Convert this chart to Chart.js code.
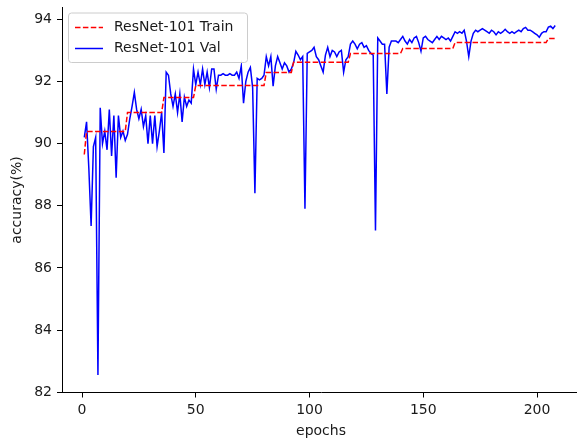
<!DOCTYPE html>
<html>
<head>
<meta charset="utf-8">
<script src="https://cdn.jsdelivr.net/npm/chart.js@4.4.1/dist/chart.umd.min.js"></script>
<style>
  html, body { margin: 0; padding: 0; background: #fff; overflow: hidden; }
  #wrap { width: 577px; height: 442px; overflow: hidden; position: relative; }
  canvas { display: block; }
</style>
</head>
<body>
<div id="wrap"><canvas id="c" width="600" height="442" style="width:600px;height:442px"></canvas></div>
<script>
// Training accuracy per epoch (step-wise plateaus)
const trainAcc = [
  89.65,
  90.39, 90.39, 90.39, 90.39, 90.39, 90.39, 90.39, 90.39, 90.39,
  90.39, 90.39, 90.39, 90.39, 90.39, 90.39, 90.39, 90.39, 90.39,
  91.0, 91.0, 91.0, 91.0, 91.0, 91.0, 91.0, 91.0,
  91.0, 91.0, 91.0, 91.0, 91.0, 91.0, 91.0, 91.0,
  91.48, 91.48, 91.48, 91.48, 91.48, 91.48, 91.48,
  91.48, 91.48, 91.48, 91.48, 91.48, 91.48, 91.48,
  91.87, 91.87, 91.87, 91.87, 91.87, 91.87, 91.87, 91.87, 91.87, 91.87,
  91.87, 91.87, 91.87, 91.87, 91.87, 91.87, 91.87, 91.87, 91.87, 91.87,
  91.87, 91.87, 91.87, 91.87, 91.87, 91.87, 91.87, 91.87, 91.87, 91.87, 91.87,
  92.29, 92.29, 92.29, 92.29, 92.29, 92.29,
  92.29, 92.29, 92.29, 92.29, 92.29, 92.29,
  92.62, 92.62, 92.62, 92.62, 92.62, 92.62, 92.62, 92.62, 92.62, 92.62,
  92.62, 92.62, 92.62, 92.62, 92.62, 92.62, 92.62, 92.62, 92.62, 92.62,
  92.62, 92.62, 92.62, 92.62, 92.62,
  92.9, 92.9, 92.9, 92.9, 92.9, 92.9, 92.9, 92.9, 92.9, 92.9,
  92.9, 92.9, 92.9, 92.9, 92.9, 92.9, 92.9, 92.9, 92.9, 92.9,
  92.9, 92.9, 92.9,
  93.06, 93.06, 93.06, 93.06, 93.06, 93.06, 93.06, 93.06, 93.06, 93.06,
  93.06, 93.06, 93.06, 93.06, 93.06, 93.06, 93.06, 93.06, 93.06, 93.06,
  93.06, 93.06, 93.06,
  93.25, 93.25, 93.25, 93.25, 93.25, 93.25, 93.25, 93.25, 93.25, 93.25,
  93.25, 93.25, 93.25, 93.25, 93.25, 93.25, 93.25, 93.25, 93.25, 93.25,
  93.25, 93.25, 93.25, 93.25, 93.25, 93.25, 93.25, 93.25, 93.25, 93.25,
  93.25, 93.25, 93.25, 93.25, 93.25, 93.25, 93.25, 93.25, 93.25, 93.25,
  93.25,
  93.38, 93.38, 93.38, 93.38
];

// Validation accuracy per epoch
const valAcc = [
  90.2, 90.7, 89.2, 87.35, 89.9, 90.2, 82.55, 91.15, 90.0, 90.4,
  89.8, 91.1, 89.6, 90.9, 88.9, 90.9, 90.2, 90.4, 90.1, 90.3,
  90.8, 91.2, 91.65, 91.1, 90.8, 91.1, 90.55, 90.9, 90.0, 90.9,
  90.0, 90.9, 89.9, 90.4, 91.0, 89.7, 92.3, 92.2, 91.6, 91.2,
  91.6, 91.0, 91.6, 90.7, 91.5, 91.2, 91.4, 91.3, 92.4, 91.9,
  92.3, 91.9, 92.4, 91.9, 92.3, 91.8, 92.4, 92.4, 91.75, 92.2,
  92.2, 92.25, 92.2, 92.2, 92.25, 92.2, 92.2, 92.3, 92.1, 92.5,
  91.3, 92.0, 92.3, 92.45, 91.8, 88.4, 92.1, 92.05, 92.1, 92.2,
  92.8, 92.5, 92.8, 91.85, 92.5, 92.8, 92.6, 92.4, 92.6, 92.5,
  92.3, 92.4, 92.6, 92.97, 92.85, 92.7, 92.8, 87.9, 92.9, 92.95,
  93.0, 93.1, 92.8, 92.7, 92.5, 92.3, 92.85, 93.1, 92.8, 93.0,
  92.95, 92.8, 92.95, 93.0, 92.3, 92.7, 92.8, 93.2, 93.3, 93.2,
  93.05, 93.2, 93.25, 93.1, 93.15, 93.0, 92.9, 92.85, 87.2, 93.4,
  93.3, 93.2, 93.2, 91.6, 93.1, 93.3, 93.3, 93.3, 93.25, 93.35,
  93.45, 93.3, 93.2, 93.35, 93.25, 93.4, 93.45, 93.25, 92.97, 93.4,
  93.45, 93.35, 93.3, 93.25, 93.35, 93.45, 93.35, 93.45, 93.4, 93.35,
  93.4, 93.3, 93.45, 93.6, 93.55, 93.6, 93.55, 93.65, 93.3, 92.8,
  93.3, 93.55, 93.65, 93.6, 93.65, 93.7, 93.65, 93.6, 93.55, 93.65,
  93.6, 93.5, 93.6, 93.55, 93.6, 93.68, 93.6, 93.55, 93.6, 93.55,
  93.6, 93.65, 93.6, 93.7, 93.74, 93.65, 93.65, 93.6, 93.55, 93.5,
  93.42, 93.55, 93.6, 93.6, 93.75, 93.78, 93.7, 93.8
];

const xTicks = [0, 50, 100, 150, 200];
const yTicks = [82, 84, 86, 88, 90, 92, 94];
const seriesNames = ['ResNet-101 Train', 'ResNet-101 Val'];
const xTitle = 'epochs';
const yTitle = 'accuracy(%)';

const epochs = valAcc.map((_, i) => i + 1);
const toPoints = arr => arr.map((v, i) => ({ x: epochs[i], y: v }));

const FONT = '"DejaVu Sans", "Liberation Sans", sans-serif';
const TEXT = '#1a1a1a';

// Legend box drawn inside the plot, upper left
const insetLegend = {
  id: 'insetLegend',
  afterDatasetsDraw(chart) {
    const ctx = chart.ctx;
    const area = chart.chartArea;
    const bx = area.left + 6.5, by = area.top + 5.5, bw = 179, bh = 49.5, r = 3;
    ctx.save();
    ctx.beginPath();
    ctx.moveTo(bx + r, by);
    ctx.lineTo(bx + bw - r, by);
    ctx.arcTo(bx + bw, by, bx + bw, by + r, r);
    ctx.lineTo(bx + bw, by + bh - r);
    ctx.arcTo(bx + bw, by + bh, bx + bw - r, by + bh, r);
    ctx.lineTo(bx + r, by + bh);
    ctx.arcTo(bx, by + bh, bx, by + bh - r, r);
    ctx.lineTo(bx, by + r);
    ctx.arcTo(bx, by, bx + r, by, r);
    ctx.closePath();
    ctx.fillStyle = 'rgba(255,255,255,0.8)';
    ctx.fill();
    ctx.strokeStyle = '#cccccc';
    ctx.lineWidth = 1;
    ctx.stroke();

    chart.data.datasets.forEach((ds, i) => {
      const y = by + 14.5 + i * 21;
      ctx.beginPath();
      ctx.setLineDash(ds.borderDash || []);
      ctx.strokeStyle = ds.borderColor;
      ctx.lineWidth = ds.borderWidth;
      ctx.moveTo(bx + 6.5, y);
      ctx.lineTo(bx + 34.5, y);
      ctx.stroke();
      ctx.setLineDash([]);
      ctx.fillStyle = TEXT;
      ctx.font = '14px ' + FONT;
      ctx.textBaseline = 'middle';
      ctx.textAlign = 'left';
      ctx.fillText(ds.label, bx + 45.5, y);
    });
    ctx.restore();
  }
};

new Chart(document.getElementById('c'), {
  type: 'line',
  data: {
    datasets: [
      {
        label: seriesNames[0],
        data: toPoints(trainAcc),
        borderColor: '#ff0000',
        borderWidth: 1.5,
        borderDash: [5.5, 2.4],
        pointRadius: 0,
        tension: 0,
        fill: false
      },
      {
        label: seriesNames[1],
        data: toPoints(valAcc),
        borderColor: '#0000ff',
        borderWidth: 1.5,
        pointRadius: 0,
        tension: 0,
        fill: false
      }
    ]
  },
  options: {
    responsive: false,
    animation: false,
    devicePixelRatio: 1,
    layout: { padding: { left: 0, top: 7.5, right: 20, bottom: 0 } },
    plugins: { legend: { display: false }, tooltip: { enabled: false } },
    scales: {
      x: {
        type: 'linear',
        min: -8.8,
        max: 218.9,
        afterBuildTicks: s => { s.ticks = xTicks.map(v => ({ value: v })); },
        afterFit: s => { s.height = 49.5; s.paddingLeft = 0; s.paddingRight = 0; },
        grid: { display: true, drawOnChartArea: false, drawTicks: true, tickLength: 5, color: '#000', lineWidth: 1 },
        border: { display: true, color: '#000', width: 1 },
        ticks: { color: TEXT, font: { family: FONT, size: 14 }, padding: 4, maxRotation: 0, autoSkip: false },
        title: { display: true, text: xTitle, color: TEXT, font: { family: FONT, size: 14 }, padding: { top: 0, bottom: 2 } }
      },
      y: {
        type: 'linear',
        min: 81.99,
        max: 94.38,
        afterBuildTicks: s => { s.ticks = yTicks.map(v => ({ value: v })); },
        afterFit: s => { s.width = 62; s.paddingTop = 0; s.paddingBottom = 0; },
        grid: { display: true, drawOnChartArea: false, drawTicks: true, tickLength: 5, color: '#000', lineWidth: 1 },
        border: { display: true, color: '#000', width: 1 },
        ticks: { color: TEXT, font: { family: FONT, size: 14 }, padding: 5, autoSkip: false },
        title: { display: true, text: yTitle, color: TEXT, font: { family: FONT, size: 14 }, padding: { top: 9, bottom: 0 } }
      }
    }
  },
  plugins: [insetLegend]
});
</script>
</body>
</html>
